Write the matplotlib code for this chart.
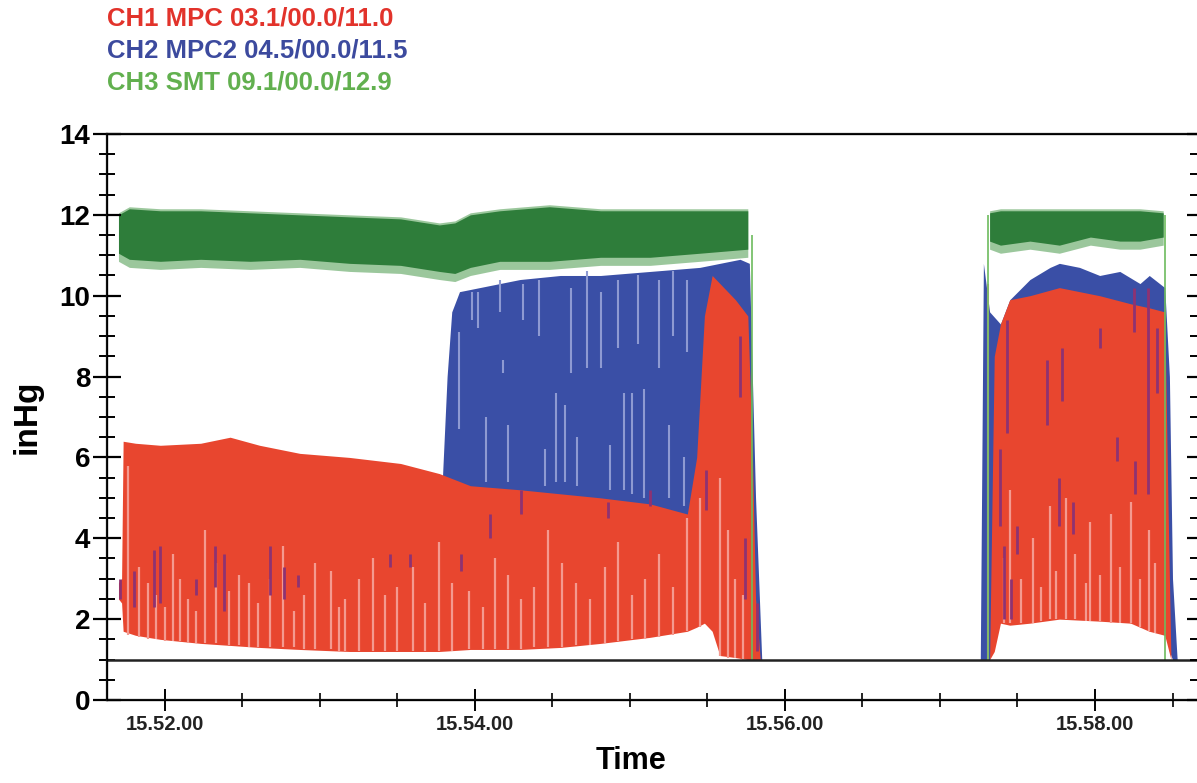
import numpy as np
import matplotlib.pyplot as plt
from matplotlib.ticker import MultipleLocator

plt.rcParams['font.family'] = ['Liberation Sans', 'DejaVu Sans']

# time in minutes after 15:00, pressure in inHg
# --- first run ---
green1_t = [51.70, 51.77, 51.97, 52.23, 52.55, 52.87, 53.19, 53.52, 53.77, 53.87,
            53.97, 54.16, 54.48, 54.81, 55.13, 55.45, 55.76]
green1_hi = [12.0, 12.15, 12.1, 12.1, 12.05, 12.0, 11.95, 11.9, 11.75, 11.8,
             12.0, 12.1, 12.2, 12.1, 12.1, 12.1, 12.1]
green1_lo = [11.0, 10.85, 10.8, 10.85, 10.8, 10.85, 10.75, 10.7, 10.55, 10.5,
             10.65, 10.8, 10.8, 10.9, 10.9, 11.0, 11.1]

blue1_t = [53.79, 53.82, 53.85, 53.90, 54.03, 54.29, 54.55, 54.81, 55.13, 55.45,
           55.71, 55.77, 55.81, 55.83, 55.85]
blue1_hi = [5.5, 8.0, 9.6, 10.1, 10.2, 10.4, 10.5, 10.5, 10.6, 10.7,
            10.9, 10.8, 5.0, 3.0, 1.0]
blue1_lo = [5.3, 5.3, 2.0, 2.0, 2.0, 2.0, 2.0, 2.0, 2.0, 2.0,
            2.0, 2.0, 1.0, 1.0, 1.0]

red1_t = [51.70, 51.72, 51.73, 51.81, 51.97, 52.23, 52.42, 52.61, 52.87, 53.19,
          53.52, 53.77, 53.97, 54.29, 54.55, 54.81, 55.13, 55.37, 55.43, 55.48,
          55.53, 55.58, 55.68, 55.76, 55.79, 55.81, 55.84]
red1_hi = [2.9, 3.0, 6.4, 6.35, 6.3, 6.35, 6.5, 6.3, 6.1, 6.0,
           5.85, 5.6, 5.3, 5.2, 5.1, 5.0, 4.85, 4.6, 6.0, 9.5,
           10.5, 10.3, 9.9, 9.5, 6.0, 2.5, 1.0]
red1_lo = [2.5, 2.4, 1.7, 1.6, 1.5, 1.4, 1.35, 1.3, 1.25, 1.2,
           1.2, 1.2, 1.25, 1.25, 1.3, 1.4, 1.55, 1.7, 1.8, 1.9,
           1.7, 1.1, 1.05, 1.0, 1.0, 1.0, 1.0]

# --- second run ---
green2_t = [57.32, 57.39, 57.58, 57.77, 57.97, 58.16, 58.29, 58.44]
green2_hi = [12.05, 12.1, 12.1, 12.1, 12.1, 12.1, 12.1, 12.05]
green2_lo = [11.3, 11.2, 11.3, 11.2, 11.4, 11.3, 11.3, 11.4]

blue2_t = [57.26, 57.28, 57.32, 57.39, 57.45, 57.58, 57.71, 57.77, 57.90, 58.03,
           58.16, 58.29, 58.35, 58.45, 58.48, 58.50, 58.53]
blue2_hi = [1.0, 10.8, 9.6, 9.3, 9.9, 10.4, 10.7, 10.8, 10.7, 10.5,
            10.6, 10.3, 10.5, 10.2, 8.0, 3.0, 1.0]
blue2_lo = [1.0, 1.0, 1.0, 2.2, 2.2, 2.2, 2.2, 2.2, 2.2, 2.2,
            2.2, 2.2, 2.2, 2.2, 1.2, 1.0, 1.0]

red2_t = [57.32, 57.35, 57.39, 57.45, 57.58, 57.77, 58.03, 58.23, 58.35, 58.45,
          58.47, 58.49]
red2_hi = [1.0, 8.5, 9.3, 9.9, 10.0, 10.2, 10.0, 9.8, 9.7, 9.6, 5.0, 1.0]
red2_lo = [1.0, 1.2, 1.9, 1.85, 1.9, 2.0, 1.95, 1.9, 1.7, 1.6, 1.3, 1.0]

# thin traces at start/stop of each run (t, low, high)
green_edges = [(55.79, 1.0, 11.5), (57.31, 1.0, 12.0), (58.45, 1.0, 12.0)]
pink_spikes = [(57.31, 1.0, 10.3)]

# lighter stripes inside the red band (t, low, high)
pink_stripes = [(51.76, 1.6, 5.8), (51.83, 1.55, 3.3), (51.89, 1.5, 2.9), (51.94, 1.5, 2.6),
                (52.00, 1.45, 2.3), (52.05, 1.45, 3.6), (52.10, 1.45, 3.0), (52.15, 1.4, 2.5),
                (52.20, 1.4, 2.2), (52.26, 1.4, 4.2), (52.33, 1.4, 3.4), (52.41, 1.35, 2.7),
                (52.48, 1.35, 3.1), (52.54, 1.3, 2.9), (52.60, 1.3, 2.4), (52.68, 1.3, 3.0),
                (52.76, 1.3, 3.8), (52.83, 1.3, 2.2), (52.90, 1.25, 2.6), (52.97, 1.25, 3.4),
                (53.07, 1.25, 3.2), (53.12, 1.2, 2.3), (53.16, 1.2, 2.5), (53.25, 1.2, 3.0),
                (53.34, 1.2, 3.5), (53.42, 1.2, 2.6), (53.50, 1.2, 2.8), (53.60, 1.2, 3.3),
                (53.68, 1.2, 2.4), (53.77, 1.2, 3.9), (53.85, 1.2, 2.9), (53.96, 1.25, 2.7),
                (54.05, 1.25, 2.3), (54.13, 1.25, 3.5), (54.21, 1.25, 3.1), (54.30, 1.25, 2.5),
                (54.38, 1.3, 2.8), (54.47, 1.3, 4.2), (54.56, 1.3, 3.4), (54.65, 1.35, 2.9),
                (54.74, 1.35, 2.5), (54.84, 1.4, 3.3), (54.92, 1.45, 3.9), (55.01, 1.5, 2.6),
                (55.10, 1.5, 3.0), (55.19, 1.55, 3.6), (55.28, 1.6, 2.8), (55.37, 1.7, 4.5),
                (55.45, 1.8, 5.0), (55.58, 1.1, 5.5), (55.63, 1.05, 4.2), (55.68, 1.05, 3.0),
                (55.73, 1.0, 2.6),
                (57.41, 1.9, 3.5), (57.45, 1.9, 5.2), (57.52, 1.9, 3.0), (57.60, 1.9, 4.0),
                (57.65, 1.95, 2.8), (57.71, 2.0, 4.8), (57.75, 2.0, 3.2), (57.81, 2.0, 5.0),
                (57.87, 2.0, 3.6), (57.94, 1.95, 2.9), (57.97, 1.95, 4.4), (58.03, 1.95, 3.1),
                (58.10, 1.9, 4.6), (58.16, 1.9, 3.3), (58.23, 1.9, 4.9), (58.29, 1.8, 3.0),
                (58.35, 1.7, 4.2), (58.39, 1.65, 3.4)]

# blue showing through the red band (t, low, high)
purple_stripes = [(51.71, 2.5, 3.0), (51.80, 2.3, 3.2), (51.93, 2.3, 3.7), (51.97, 2.4, 3.8),
                  (52.20, 2.6, 3.0), (52.32, 2.8, 3.8), (52.38, 2.2, 3.6), (52.68, 2.6, 3.8),
                  (52.77, 2.5, 3.3), (52.86, 2.8, 3.1), (53.45, 3.3, 3.6), (53.58, 3.3, 3.6),
                  (53.91, 3.2, 3.6), (54.10, 4.0, 4.6), (54.30, 4.6, 5.2), (54.86, 4.5, 4.9),
                  (55.13, 4.8, 5.2), (55.49, 4.7, 5.7), (55.71, 7.5, 9.0), (55.74, 2.5, 4.0),
                  (55.82, 1.2, 2.4),
                  (57.39, 4.3, 6.2), (57.41, 2.0, 3.8), (57.43, 6.6, 9.4), (57.46, 2.0, 3.0),
                  (57.50, 3.6, 4.3), (57.69, 6.8, 8.4), (57.77, 4.3, 5.5), (57.79, 7.4, 8.7),
                  (57.86, 4.1, 4.9), (58.03, 8.7, 9.2), (58.14, 5.9, 6.5), (58.25, 9.1, 10.2),
                  (58.26, 5.1, 5.9), (58.34, 5.1, 10.2), (58.40, 7.6, 9.2)]

# lighter stripes inside the blue band (t, low, high)
lightblue_stripes = [(53.90, 6.7, 9.1), (53.98, 9.4, 10.1), (54.02, 9.2, 10.1), (54.07, 5.4, 7.0),
                     (54.16, 9.6, 10.4), (54.18, 8.1, 8.4), (54.21, 5.4, 6.8), (54.31, 9.4, 10.3),
                     (54.41, 9.0, 10.4), (54.45, 5.3, 6.2), (54.52, 5.4, 7.6), (54.58, 5.4, 7.3),
                     (54.62, 8.1, 10.2), (54.66, 5.3, 6.5), (54.72, 8.2, 10.6), (54.81, 8.2, 10.1),
                     (54.87, 5.2, 6.3), (54.92, 8.7, 10.4), (54.96, 5.2, 7.6), (55.01, 5.1, 7.6),
                     (55.05, 8.8, 10.5), (55.09, 5.0, 7.7), (55.19, 8.2, 10.4), (55.25, 5.0, 6.8),
                     (55.28, 9.0, 10.6), (55.35, 4.8, 6.0), (55.37, 8.6, 10.4)]

baseline = 1.0
legend_lines = ["CH1 MPC 03.1/00.0/11.0", "CH2 MPC2 04.5/00.0/11.5", "CH3 SMT 09.1/00.0/12.9"]
x_ticks = [52, 54, 56, 58]
x_ticklabels = ["15.52.00", "15.54.00", "15.56.00", "15.58.00"]

red = '#E8462F'
blue = '#3A4FA6'
green = '#2E7D3A'
green_fuzz = '#4A9A4C'
text_colors = ['#E2332B', '#3C4A9E', '#62B04F']

fig = plt.figure(figsize=(11.97, 7.83), dpi=100)
ax = fig.add_axes([0.0894, 0.106, 0.9115, 0.7229])

# bands
ax.fill_between(blue1_t, blue1_lo, blue1_hi, color=blue, lw=0)
ax.fill_between(blue2_t, blue2_lo, blue2_hi, color=blue, lw=0)
ax.fill_between(red1_t, red1_lo, red1_hi, color=red, lw=0)
ax.fill_between(red2_t, red2_lo, red2_hi, color=red, lw=0)
for gt, glo, ghi in [(green1_t, green1_lo, green1_hi), (green2_t, green2_lo, green2_hi)]:
    ax.fill_between(gt, np.array(glo) - 0.15, np.array(ghi) + 0.05, color=green_fuzz, lw=0, alpha=0.55)
    ax.fill_between(gt, np.array(glo) + 0.05, ghi, color=green, lw=0)

# stripes
for data, col, lw in [(pink_stripes, '#F49A90', 1.6), (purple_stripes, '#8E3272', 2.0),
                      (lightblue_stripes, '#8E9AD2', 1.5), (pink_spikes, '#F4A8A0', 1.5),
                      (green_edges, '#6DBB5E', 1.2)]:
    ts = [d[0] for d in data]
    lo = [d[1] for d in data]
    hi = [d[2] for d in data]
    ax.vlines(ts, lo, hi, colors=col, linewidth=lw)

ax.axhline(baseline, color='#222222', lw=1.8)

ax.set_xlim(51.626, 58.665)
ax.set_ylim(0, 14)

ax.set_xticks(x_ticks)
ax.set_xticklabels(x_ticklabels, fontsize=14.5, fontweight='bold', color='#222222')
ax.xaxis.set_minor_locator(MultipleLocator(0.5))
ax.yaxis.set_major_locator(MultipleLocator(2))
ax.yaxis.set_minor_locator(MultipleLocator(0.5))
ax.tick_params(axis='y', which='major', direction='inout', length=20, width=1.6, labelsize=20, pad=2)
ax.tick_params(axis='y', which='minor', direction='inout', length=11, width=1.4)
ax.tick_params(axis='x', which='major', direction='inout', length=16, width=1.4, pad=3)
ax.tick_params(axis='x', which='minor', direction='inout', length=10, width=1.2)
for lbl in ax.get_yticklabels():
    lbl.set_fontweight('bold')
for spine in ax.spines.values():
    spine.set_linewidth(1.6)
    spine.set_color('#111111')

# inward ticks on the right side
ax_r = ax.twinx()
ax_r.set_ylim(0, 14)
ax_r.yaxis.set_major_locator(MultipleLocator(2))
ax_r.yaxis.set_minor_locator(MultipleLocator(0.5))
ax_r.tick_params(axis='y', which='major', direction='in', length=8, width=1.6, labelright=False)
ax_r.tick_params(axis='y', which='minor', direction='in', length=6, width=1.4)
ax_r.spines['right'].set_visible(False)

ax.set_xlabel('Time', fontsize=22, fontweight='bold')
ax.set_ylabel('inHg', fontsize=24, fontweight='bold')
ax.xaxis.set_label_coords(0.48, -0.082)
ax.yaxis.set_label_coords(-0.059, 0.5)

for i, (txt, col) in enumerate(zip(legend_lines, text_colors)):
    fig.text(107 / 1197, 1 - (18 + 32 * i) / 783, txt, color=col, fontsize=18.5,
             fontweight='bold', va='center', ha='left')

fig.savefig('out.png', dpi=100)
